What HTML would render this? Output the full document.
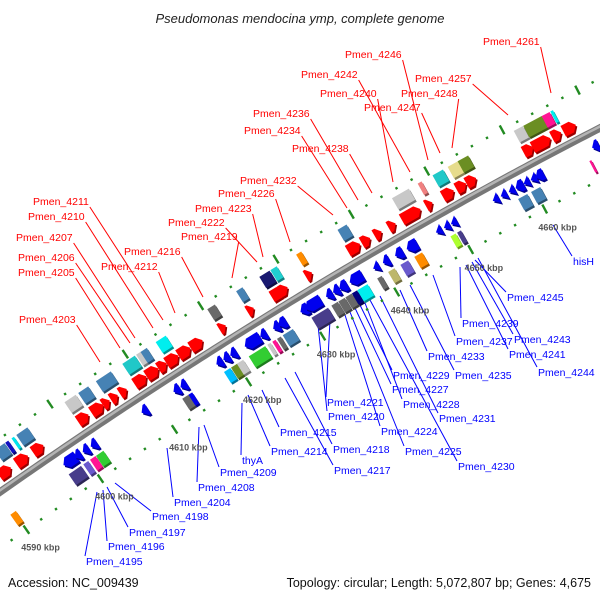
<!DOCTYPE html>
<html><head><meta charset="utf-8"><style>
html,body{margin:0;padding:0;background:#fff;}
svg{display:block;font-family:"Liberation Sans",sans-serif;}
</style></head><body>
<svg id="map" width="600" height="600" viewBox="0 0 600 600" xmlns="http://www.w3.org/2000/svg">
<text x="300" y="23" text-anchor="middle" font-size="13" font-style="italic" fill="#222">Pseudomonas mendocina ymp, complete genome</text>
<text x="8" y="587" font-size="12.5" fill="#111">Accession: NC_009439</text>
<text x="591" y="587" text-anchor="end" font-size="12.5" fill="#111">Topology: circular; Length: 5,072,807 bp; Genes: 4,675</text>
<g id="leaders"></g>
<g id="ticks"></g>
<g id="backbone"></g>
<g id="features"></g>
<g id="labels"></g>
</svg>
<script>
// forward genes (kbp centre, kbp length)
const fwdKbp=[4591.74,4594.02,4596.16,4602.18,4604.06,4605.26,4606.33,4607.54,4609.82,4611.42,4612.76,4614.10,4615.70,4617.31,4620.79,4624.54,4628.15,4628.96,4632.30,4638.33,4639.93,4641.54,4643.41,4645.96,4648.37,4650.91,4652.65,4653.99,4661.62,4663.36,4665.37,4667.11];
const fwdLen=[1.9,1.9,1.7,1.7,1.9,1.1,1.1,1.1,1.9,1.9,1.3,1.9,1.9,1.9,1.0,1.0,1.9,1.2,1.0,1.9,1.3,1.1,1.1,2.9,1.0,1.7,1.5,1.5,1.5,2.7,1.4,1.9];
// reverse genes
const revKbp=[4598.30,4599.37,4600.44,4601.51,4608.34,4612.62,4613.56,4618.38,4619.32,4620.25,4622.80,4624.27,4626.01,4626.81,4629.76,4630.96,4633.10,4634.04,4634.98,4636.72,4639.40,4640.74,4642.48,4644.21,4647.83,4648.90,4649.84,4655.46,4656.53,4657.60,4658.67,4659.61,4660.55,4661.35,4668.85];
const revLen=[2.1,1.0,1.0,1.0,1.0,1.0,1.0,1.0,1.0,1.0,2.4,1.0,1.0,1.2,1.2,2.4,1.0,1.0,1.2,2.0,0.9,1.0,1.2,1.6,0.9,0.9,0.9,0.9,0.9,0.9,1.2,0.9,0.9,1.2,1.0];
// COG boxes above backbone
const upKbp=[4592.81,4593.75,4594.55,4595.76,4602.18,4603.92,4606.60,4609.95,4611.29,4611.96,4614.23,4620.92,4624.67,4628.02,4629.22,4632.57,4638.33,4646.09,4648.64,4651.04,4653.05,4654.39,4661.75,4663.63,4665.37,4666.17];
const upLen=[1.6,0.5,0.4,1.8,1.8,1.6,2.4,2.0,0.8,1.0,1.6,1.2,1.0,1.6,1.0,0.8,1.4,2.6,0.6,1.6,1.6,1.6,1.4,2.8,1.2,0.4];
const upColor=["#4682b4","#1010c0","#00e5ee","#4682b4","#c8c8c8","#4682b4","#4682b4","#20c8c8","#c8c8c8","#4682b4","#00eeee","#696969","#4682b4","#191970","#20d0d0","#ff8c00","#4682b4","#c8c8c8","#f08080","#20c8c8","#e6dc8c","#6b8e23","#c8c8c8","#6b8e23","#ff1493","#00eeee"];
// COG boxes below backbone
const dnKbp=[4598.17,4599.64,4600.58,4601.51,4589.87,4613.03,4613.69,4618.65,4619.59,4620.39,4622.66,4624.27,4624.94,4625.61,4626.81,4631.10,4633.10,4634.04,4634.98,4635.78,4636.85,4639.13,4640.74,4642.48,4644.35,4649.04,4649.84,4658.41,4660.15,4667.51];
const dnLen=[2.0,0.8,0.9,1.2,0.9,1.0,0.6,1.0,1.0,1.0,2.6,0.5,0.5,0.6,1.6,2.6,1.0,1.0,1.0,0.8,1.6,0.7,1.0,1.2,1.2,0.8,0.6,1.4,1.4,0.3];
const dnColor=["#483d8b","#6a5acd","#ff1493","#32cd32","#ff8c00","#696969","#0000ee","#00bfff","#6b8e23","#c8c8c8","#32cd32","#c8c8c8","#ff1493","#696969","#4682b4","#483d8b","#696969","#696969","#696969","#000080","#00eeee","#696969","#bdb76b","#6a5acd","#ff8c00","#adff2f","#483d8b","#4682b4","#4682b4","#ff1493"];
// axis ticks
const tickKbp=[4590,4600,4610,4620,4630,4640,4650,4660];
const tickText=["4590 kbp","4600 kbp","4610 kbp","4620 kbp","4630 kbp","4640 kbp","4650 kbp","4660 kbp"];
// gene labels: name, text x, baseline y, leader end x, end y (layout)
const redLabels=[["Pmen_4261",483,45,551,93],["Pmen_4246",345,58,428,160],["Pmen_4242",301,78,410,172],["Pmen_4257",415,82,508,115],["Pmen_4240",320,97,393,182],["Pmen_4248",401,97,452,148],["Pmen_4247",364,111,440,153],["Pmen_4236",253,117,358,200],["Pmen_4234",244,134,347,208],["Pmen_4238",292,152,372,193],["Pmen_4232",240,184,333,215],["Pmen_4226",218,197,290,242],["Pmen_4223",195,212,263,257],["Pmen_4222",168,226,257,262],["Pmen_4219",181,240,232,278],["Pmen_4216",124,255,203,297],["Pmen_4212",101,270,175,313],["Pmen_4211",33,205,163,320],["Pmen_4210",28,220,153,328],["Pmen_4207",16,241,135,338],["Pmen_4206",18,261,130,343],["Pmen_4205",18,276,120,348],["Pmen_4203",19,323,100,362]];
const blueLabels=[["hisH",573,265,553,225],["Pmen_4245",507,301,475,260],["Pmen_4239",462,327,460,267],["Pmen_4243",514,343,472,262],["Pmen_4237",456,345,433,275],["Pmen_4241",509,358,466,265],["Pmen_4233",428,360,400,290],["Pmen_4244",538,376,478,258],["Pmen_4235",455,379,410,285],["Pmen_4229",393,379,360,305],["Pmen_4227",392,393,355,308],["Pmen_4228",403,408,365,303],["Pmen_4231",439,422,380,296],["Pmen_4221",327,406,330,320],["Pmen_4220",328,420,318,325],["Pmen_4224",381,435,345,315],["Pmen_4215",280,436,262,390],["Pmen_4218",333,453,295,372],["Pmen_4225",405,455,350,312],["Pmen_4214",271,455,248,395],["Pmen_4230",458,470,370,300],["Pmen_4217",334,474,285,378],["thyA",242,464,242,403],["Pmen_4209",220,476,204,425],["Pmen_4208",198,491,199,427],["Pmen_4204",174,506,167,448],["Pmen_4198",152,520,115,483],["Pmen_4197",129,536,107,487],["Pmen_4196",108,550,103,490],["Pmen_4195",86,565,97,492]];

const NS="http://www.w3.org/2000/svg";
const PX=7.47, K0=4590;
function sOf(k){return (k-K0)*PX;}
function yOf(s){return 0.0001556*s*s-0.7*s+492;}
function slope(s){return 0.0003112*s-0.7;}
function pt(s,off){const m=slope(s),d=Math.sqrt(1+m*m);return [s+off*m/d, yOf(s)-off/d];}
function ang(s){return Math.atan(slope(s))*180/Math.PI;}
function mk(tag,attrs,parent){const e=document.createElementNS(NS,tag);for(const k in attrs)e.setAttribute(k,attrs[k]);parent.appendChild(e);return e;}
function darken(hex,f){const n=parseInt(hex.slice(1),16);const r=Math.round(((n>>16)&255)*f),g=Math.round(((n>>8)&255)*f),b=Math.round((n&255)*f);return "rgb("+r+","+g+","+b+")";}

// backbone
const bb=document.getElementById('backbone');
let d="";for(let x=-10;x<=610;x+=5){d+=(x===-10?"M":"L")+x+","+yOf(x).toFixed(2);}
let p=mk('path',{d:d,stroke:"#777",'stroke-width':7.5,fill:"none"},bb);


d="";for(let x=-10;x<=610;x+=5){d+=(x===-10?"M":"L")+x+","+(yOf(x)-1.6).toFixed(2);}
p=mk('path',{d:d,stroke:"#b4b4b4",'stroke-width':2.5,fill:"none"},bb);



// tick tracks
const tk=document.getElementById('ticks');
for(let k=4588;k<=4674;k+=2){
  const s=sOf(k);
  [44,-46].forEach(off=>{
    const q=pt(s,off),a=ang(s);
    let e;
    if(k%10===0){e=mk('rect',{x:-1.2,y:-5,width:2.4,height:10,fill:"#228b22",transform:`translate(${q[0].toFixed(1)},${q[1].toFixed(1)}) rotate(${a.toFixed(1)})`},tk);}
    else{e=mk('rect',{x:-1.2,y:-1.2,width:2.4,height:2.4,fill:"#228b22",transform:`translate(${q[0].toFixed(1)},${q[1].toFixed(1)}) rotate(${a.toFixed(1)})`},tk);}
    
    
  });
}
tickKbp.forEach((k,i)=>{
  const q=pt(sOf(k),-58);
  const t=mk('text',{x:(q[0]-12).toFixed(1),y:(q[1]+11).toFixed(1),'font-size':9,'font-weight':'bold',fill:"#555"},tk);
  t.textContent=tickText[i];
  
  
});

// features
const fg=document.getElementById('features');
function shape(L,h,dir){
  if(dir===0)return `${-L/2},${-h/2} ${L/2},${-h/2} ${L/2},${h/2} ${-L/2},${h/2}`;
  const hd=Math.min(L,5);
  let pts=[[-L/2,-h/2],[L/2-hd,-h/2],[L/2,0],[L/2-hd,h/2],[-L/2,h/2]];
  if(L<=7)pts=[[-L/2,-h/2],[L/2,0],[-L/2,h/2]];
  if(dir<0)pts=pts.map(q=>[-q[0],q[1]]);
  return pts.map(q=>q[0].toFixed(1)+","+q[1].toFixed(1)).join(" ");
}
function feature(k,len,off,color,dir,name){
  const s=sOf(k),q=pt(s,off),a=ang(s);
  const L=len*PX;
  const g=mk('g',{transform:`translate(${q[0].toFixed(1)},${q[1].toFixed(1)})`},fg);
  
  
  const pts=shape(L,dir===0?13:12,dir);
  mk('polygon',{points:pts,fill:darken(color,0.6),transform:`translate(1.5,1.8) rotate(${a.toFixed(1)})`},g);
  mk('polygon',{points:pts,fill:color,transform:`rotate(${a.toFixed(1)})`},g);
}
upKbp.forEach((k,i)=>feature(k,upLen[i],31,upColor[i],0,'cog-box-forward'));
dnKbp.forEach((k,i)=>feature(k,dnLen[i],-31,dnColor[i],0,'cog-box-reverse'));
fwdKbp.forEach((k,i)=>feature(k,fwdLen[i],14,"#ff0000",1,'forward-gene'));
revKbp.forEach((k,i)=>feature(k,revLen[i],-14,"#0000ee",-1,'reverse-gene'));

// labels + leaders
const lg=document.getElementById('labels'),ld=document.getElementById('leaders');
function label(arr,color,isRed){
  arr.forEach(r=>{
    const t=mk('text',{x:r[1],y:r[2],'font-size':10.5,fill:color},lg);
    t.textContent=r[0];
    
    
    const w=t.getComputedTextLength?t.getComputedTextLength():56;
    const sx=isRed?r[1]+w+1:r[1]-1, sy=isRed?r[2]+2:r[2]-9;
    const l=mk('line',{x1:sx,y1:sy,x2:r[3],y2:r[4],stroke:color,'stroke-width':1},ld);
    
    
  });
}
label(redLabels,"#ff0000",true);
label(blueLabels,"#0000ff",false);
</script>
</body></html>
